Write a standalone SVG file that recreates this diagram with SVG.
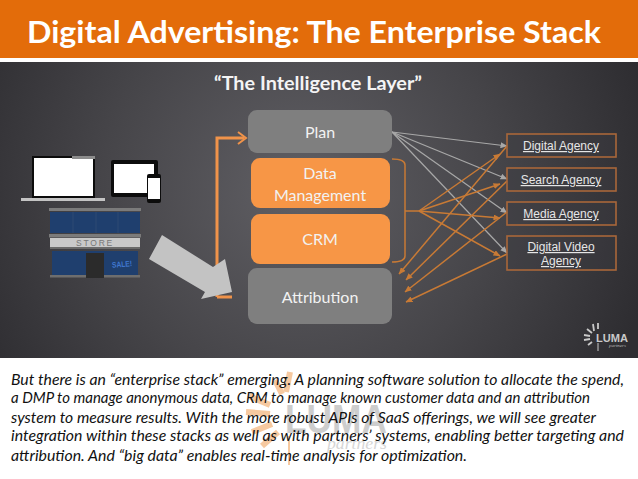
<svg xmlns="http://www.w3.org/2000/svg" width="638" height="479" viewBox="0 0 638 479">
<style>
.c{font-family:Lato,"Open Sans",sans-serif}
.a{font-family:"Liberation Sans",Arial,sans-serif;font-size:12px;fill:#e6e6e6;text-anchor:middle;text-decoration:underline}
.n{font-family:Lato,"Open Sans",sans-serif;font-size:16px;fill:#f2f2f2;text-anchor:middle}
.b{font-family:Lato,"Open Sans",sans-serif;font-size:15px;font-style:italic;fill:#111}
.ag{fill:#3d3c41;fill-opacity:.35;stroke:#a9673a;stroke-width:1.6}
.o{stroke:#c87a35;stroke-width:1.5;fill:none}
.g{stroke:#a8a8a8;stroke-width:1.2;fill:none;marker-end:url(#gh)}
.ro{stroke:#c87a35;stroke-width:1.5;fill:none;marker-end:url(#oh)}
</style>
<defs>
<radialGradient id="bg" gradientUnits="userSpaceOnUse" cx="300" cy="190" r="360"><stop offset="0" stop-color="#605f64"/><stop offset=".55" stop-color="#464549"/><stop offset="1" stop-color="#2e2d31"/></radialGradient>
<marker id="gh" markerWidth="7" markerHeight="6" refX="6.500" refY="3" orient="auto" markerUnits="userSpaceOnUse"><path d="M0 0L7 3L0 6z" fill="#a8a8a8"/></marker>
<marker id="oh" markerWidth="7" markerHeight="6" refX="6.500" refY="3" orient="auto" markerUnits="userSpaceOnUse"><path d="M0 0L7 3L0 6z" fill="#c87a35"/></marker>
</defs>
<rect width="638" height="479" fill="#fff"/>
<rect y="0" width="638" height="58" fill="#e36c0a"/>
<rect y="62" width="638" height="296" fill="url(#bg)"/>
<text class="c" x="27" y="43" font-size="31" font-weight="700" fill="#fff" textLength="574" lengthAdjust="spacingAndGlyphs">Digital Advertising: The Enterprise Stack</text>
<text class="c" x="214" y="90" font-size="19" font-weight="700" fill="#f4f4f4" textLength="208" lengthAdjust="spacingAndGlyphs">“The Intelligence Layer”</text>

<g id="watermark">
<g stroke="#f6c9a0" stroke-width="6" fill="none"><path d="M290 372L286 392"/><path d="M275 380L282 394"/><path d="M249 396L270 405"/><path d="M246 412L270 414"/><path d="M252 432L272 424"/><path d="M262 446L278 432"/><path d="M289 436L289 465" stroke-width="2"/></g>
<text x="285" y="433" font-family="Liberation Sans,Arial,sans-serif" font-size="41" font-weight="700" fill="#cdcdcd" textLength="102" lengthAdjust="spacingAndGlyphs">LUMA</text>
<text x="327" y="449" font-family="Liberation Serif,serif" font-size="17" font-style="italic" fill="#d6d6d6" textLength="60" lengthAdjust="spacingAndGlyphs">partners</text>
</g>

<g id="caption">
<text class="b" x="11" y="385" textLength="613" lengthAdjust="spacingAndGlyphs">But there is an “enterprise stack” emerging. A planning software solution to allocate the spend,</text>
<text class="b" x="11" y="403" textLength="579" lengthAdjust="spacingAndGlyphs">a DMP to manage anonymous data, CRM to manage known customer data and an attribution</text>
<text class="b" x="11" y="423" textLength="585" lengthAdjust="spacingAndGlyphs">system to measure results. With the more robust APIs of SaaS offerings, we will see greater</text>
<text class="b" x="11" y="441" textLength="613" lengthAdjust="spacingAndGlyphs">integration within these stacks as well as with partners’ systems, enabling better targeting and</text>
<text class="b" x="11" y="461" textLength="456" lengthAdjust="spacingAndGlyphs">attribution. And “big data” enables real-time analysis for optimization.</text>
</g>

<g id="devices">
<rect x="32" y="156" width="63" height="42" fill="#0c0c0c"/><rect x="34" y="158" width="59" height="38" fill="#fff"/>
<rect x="72" y="156" width="23" height="3" fill="#8c8c8c"/>
<rect x="21" y="198" width="84" height="3" fill="#c4c4c4"/>
<rect x="111" y="160" width="47" height="37" rx="2" fill="#0c0c0c"/><rect x="114" y="164" width="40" height="29" fill="#fff"/>
<rect x="147" y="174" width="14" height="29" rx="2" fill="#0c0c0c"/><rect x="148" y="178" width="12" height="21" fill="#fff"/>
</g>
<g id="store">
<rect x="49" y="208" width="92" height="3" fill="#7b7b7b"/>
<rect x="50" y="212" width="90" height="21" fill="#1f3f6e"/>
<path d="M73 212v21M96 212v21M118 212v21" stroke="#2f4a72" stroke-width="1"/>
<rect x="49" y="234" width="92" height="3.500" fill="#7b7b7b"/>
<rect x="50" y="238" width="90" height="9" fill="#c9c9c9"/>
<text x="95" y="246" font-family="Liberation Sans,Arial,sans-serif" font-size="8.500" fill="#777" text-anchor="middle" letter-spacing="1.800">STORE</text>
<rect x="50" y="247" width="90" height="2" fill="#6a6a6a"/>
<rect x="52" y="251" width="86" height="24" fill="#1f3f6e"/>
<rect x="86" y="253" width="18" height="25" fill="#2b2b2b"/>
<rect x="50" y="275" width="36" height="2.500" fill="#6e6e6e"/><rect x="104" y="275" width="36" height="2.500" fill="#6e6e6e"/>
<text x="122" y="267" font-family="Liberation Sans,Arial,sans-serif" font-size="8" font-weight="700" fill="#3f78d0" text-anchor="middle" textLength="20" lengthAdjust="spacingAndGlyphs" transform="rotate(-5 122 264)">SALE!</text>
</g>

<g id="connectors">
<path d="M217 297V138H244" stroke="#f0934a" stroke-width="3" fill="none"/>
<path d="M238 132L246 138L238 144" stroke="#f0934a" stroke-width="2" fill="none"/>
<path d="M217 297H232" stroke="#f0934a" stroke-width="3" fill="none"/>
<path d="M162 235L149 259L205 292L201 299L232 292L225 259L213 267z" fill="#c3c3c3"/>

<path d="M392 132L507 146" class="g"/>
<path d="M392 132L507 179" class="g"/>
<path d="M392 132L507 213" class="g"/>
<path d="M392 132L507 253" class="g"/>

<path d="M392 159Q405 159 405 165V256Q405 262 392 262" class="o"/>
<path d="M405 211H420" class="o"/>
<path d="M419 211L500 154" class="ro"/>
<path d="M419 211L500 184" class="ro"/>
<path d="M419 211L500 218" class="ro"/>
<path d="M419 211L500 256" class="ro"/>
<path d="M507 146L399 274" class="ro"/>
<path d="M507 181L406 280" class="ro"/>
<path d="M507 212L405 292" class="ro"/>
<path d="M507 254L406 302" class="ro"/>
</g>

<g id="plan"><rect x="248" y="110" width="144" height="43" rx="9" fill="#7f7f7f"/><text class="n" x="320" y="138">Plan</text></g>
<g id="data-management"><rect x="251" y="158" width="139" height="50" rx="9" fill="#f79646"/><text class="n" x="320" y="179">Data</text><text class="n" x="320" y="201">Management</text></g>
<g id="crm"><rect x="251" y="214" width="139" height="50" rx="9" fill="#f79646"/><text class="n" x="320" y="245">CRM</text></g>
<g id="attribution"><rect x="248" y="268" width="144" height="56" rx="9" fill="#7f7f7f"/><text class="n" x="320" y="303">Attribution</text></g>

<g id="digital-agency"><rect class="ag" x="507" y="134" width="109" height="23"/><text class="a" x="561" y="150">Digital Agency</text></g>
<g id="search-agency"><rect class="ag" x="507" y="168" width="109" height="23"/><text class="a" x="561" y="184">Search Agency</text></g>
<g id="media-agency"><rect class="ag" x="507" y="202" width="109" height="23"/><text class="a" x="561" y="218">Media Agency</text></g>
<g id="digital-video-agency"><rect class="ag" x="507" y="236" width="109" height="34"/><text class="a" x="561" y="251">Digital Video</text><text class="a" x="561" y="265">Agency</text></g>

<g id="logo">
<g stroke="#c9c9c9" stroke-width="1.800" fill="none"><path d="M598 323V329"/><path d="M593 324L594 331"/><path d="M587 329L592 333"/><path d="M584 335L590 336"/><path d="M584 340L590 339"/><path d="M588 345L592 342"/><path d="M598 343V351" stroke-width="1"/></g>
<text x="596" y="342" font-family="Liberation Sans,Arial,sans-serif" font-size="11" font-weight="700" fill="#c9c9c9" textLength="32" lengthAdjust="spacingAndGlyphs">LUMA</text>
<text x="609" y="347" font-family="Liberation Serif,serif" font-size="5" font-style="italic" fill="#b5b5b5">partners</text>
</g>
</svg>
